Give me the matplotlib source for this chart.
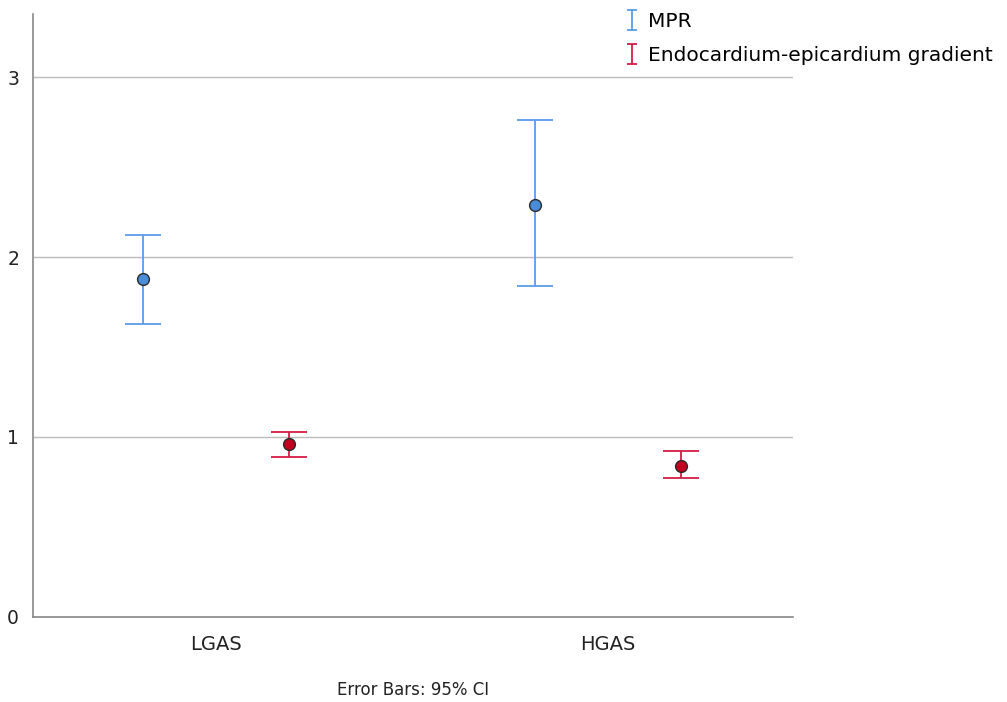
import numpy as np
import matplotlib.pyplot as plt
from matplotlib.path import Path
from matplotlib.lines import Line2D

# data
groups = ['LGAS', 'HGAS']
series = ['MPR', 'Endocardium-epicardium gradient']
mpr_mean = [1.88, 2.29]
mpr_low = [1.63, 1.84]
mpr_high = [2.12, 2.76]
endo_mean = [0.96, 0.84]
endo_low = [0.89, 0.77]
endo_high = [1.03, 0.92]

line_colors = ['#5B9BEA', '#D81B45']
fill_colors = ['#4A8CD8', '#C0001F']

W, H = 1007, 702
fig = plt.figure(figsize=(W / 100, H / 100), dpi=100)
ax = fig.add_axes([33 / W, (H - 617) / H, (793 - 33) / W, (617 - 14) / H])

x = np.arange(len(groups))
offset = 0.186
means = [mpr_mean, endo_mean]
lows = [mpr_low, endo_low]
highs = [mpr_high, endo_high]

for i in range(2):
    m = np.array(means[i])
    yerr = [m - np.array(lows[i]), np.array(highs[i]) - m]
    xs = x + (-offset if i == 0 else offset)
    ax.errorbar(xs, m, yerr=yerr, fmt='none', ecolor=line_colors[i],
                elinewidth=1.3, capsize=13, capthick=1.3, zorder=3)
    ax.plot(xs, m, 'o', markersize=8.5, markerfacecolor=fill_colors[i],
            markeredgecolor='#2a2a2a', markeredgewidth=1.0, zorder=4)

ax.set_xlim(-0.467, 1.472)
ax.set_ylim(0, 3.35)
ax.set_xticks(x)
ax.set_xticklabels(groups, fontsize=14)
ax.set_yticks([0, 1, 2, 3])
ax.tick_params(length=0, labelsize=13.5, colors='#222222')
ax.tick_params(axis='x', labelsize=14, pad=13)
ax.tick_params(axis='y', pad=10)
ax.grid(axis='y', color='#BBBBBB', linewidth=1.0)
ax.set_axisbelow(True)
for s in ['top', 'right']:
    ax.spines[s].set_visible(False)
for s in ['left', 'bottom']:
    ax.spines[s].set_color('#888888')
    ax.spines[s].set_linewidth(1.2)

# I-shaped legend glyph
ibeam = Path([(-0.5, 1), (0.5, 1), (0, 1), (0, -1), (-0.5, -1), (0.5, -1)],
             [Path.MOVETO, Path.LINETO, Path.MOVETO, Path.LINETO, Path.MOVETO, Path.LINETO])
handles = [Line2D([], [], linestyle='none', marker=ibeam, markersize=14,
                  markeredgecolor=c, markerfacecolor='none', markeredgewidth=1.3)
           for c in line_colors]
fig.legend(handles, series, loc='upper left', bbox_to_anchor=(608 / W, 1 + 2 / H),
           frameon=False, fontsize=14.5, handlelength=1.0, handletextpad=0.3,
           labelspacing=0.75, borderpad=0.2)

fig.text(413 / W, 1 - 690 / H, 'Error Bars: 95% CI', ha='center', va='center',
         fontsize=12, color='#222222')

fig.savefig('out.png', dpi=100)
